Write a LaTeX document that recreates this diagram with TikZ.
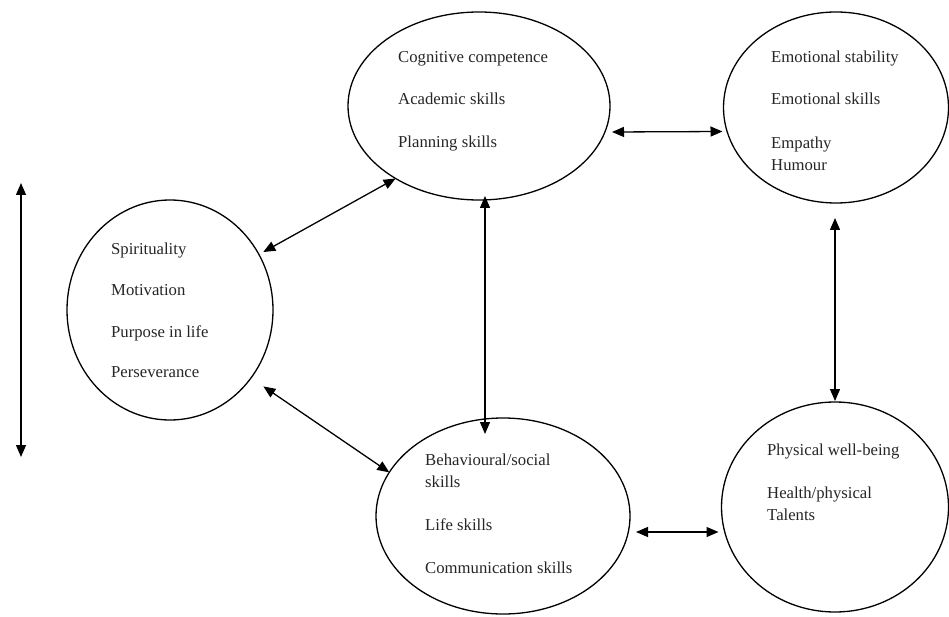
\documentclass[tikz,border=0pt]{standalone}
\usepackage{fontspec}
\setmainfont{Liberation Serif}
\usetikzlibrary{arrows.meta,shapes.geometric}
\begin{document}
\begin{tikzpicture}[x=1pt,y=-1pt,
  ell/.style={draw, ellipse, line width=1.3pt, inner sep=0pt, outer sep=0pt},
  lbl/.style={anchor=base west, inner sep=0pt, font=\fontsize{16.7}{20}\selectfont, text=black!85},
  arr/.style={{Triangle[length=12pt,width=10pt]}-{Triangle[length=12pt,width=10pt]}, line width=1.3pt}]
\useasboundingbox (0,0) rectangle (949,617);
% ellipses
\node[ell, minimum width=262pt, minimum height=188pt] (cog) at (479,106) {};
\node[ell, minimum width=225pt, minimum height=191pt] (emo) at (836,107.5) {};
\node[ell, minimum width=206pt, minimum height=220pt] (spir) at (170,310) {};
\node[ell, minimum width=254pt, minimum height=196pt] (beh) at (503,516) {};
\node[ell, minimum width=227pt, minimum height=210pt] (phys) at (835,507) {};
% texts
\node[lbl] (c1) at (398,63) {Cognitive competence};
\node[lbl] (c2) at (398,105) {Academic skills};
\node[lbl] (c3) at (398,148) {Planning skills};
\node[lbl] (e1) at (771,63) {Emotional stability};
\node[lbl] (e2) at (771,105) {Emotional skills};
\node[lbl] (e3) at (771,149) {Empathy};
\node[lbl] (e4) at (771,171) {Humour};
\node[lbl] (s1) at (111,255) {Spirituality};
\node[lbl] (s2) at (111,295) {Motivation};
\node[lbl] (s3) at (111,337) {Purpose in life};
\node[lbl] (s4) at (111,377) {Perseverance};
\node[lbl] (b1) at (425,465) {Behavioural/social};
\node[lbl] (b2) at (425,487) {skills};
\node[lbl] (b3) at (425,530) {Life skills};
\node[lbl] (b4) at (425,573) {Communication skills};
\node[lbl] (p1) at (767,455) {Physical well-being};
\node[lbl] (p2) at (767,498) {Health/physical};
\node[lbl] (p3) at (767,520) {Talents};
% connectors
\coordinate (ltop) at (21,183);
\coordinate (lbot) at (21,457);
\draw[arr] (ltop) -- (lbot);
\draw[arr, shorten <=5pt] (spir.32) -- (cog.221.6);
\draw[arr, shorten <=15pt] (spir.-40) -- (beh.159);
\draw[arr] ([shift={(6pt,4pt)}]cog.south) -- ([shift={(-18pt,-16pt)}]beh.north);
\draw[arr] ([shift={(2pt,-26pt)}]cog.east) -- ([shift={(-1pt,-24pt)}]emo.west);
\draw[arr] ([shift={(-1pt,-15pt)}]emo.south) -- ([shift={(0pt,1pt)}]phys.north);
\draw[arr] ([shift={(6pt,-16pt)}]beh.east) -- ([shift={(-3pt,-25pt)}]phys.west);
\end{tikzpicture}
\end{document}
